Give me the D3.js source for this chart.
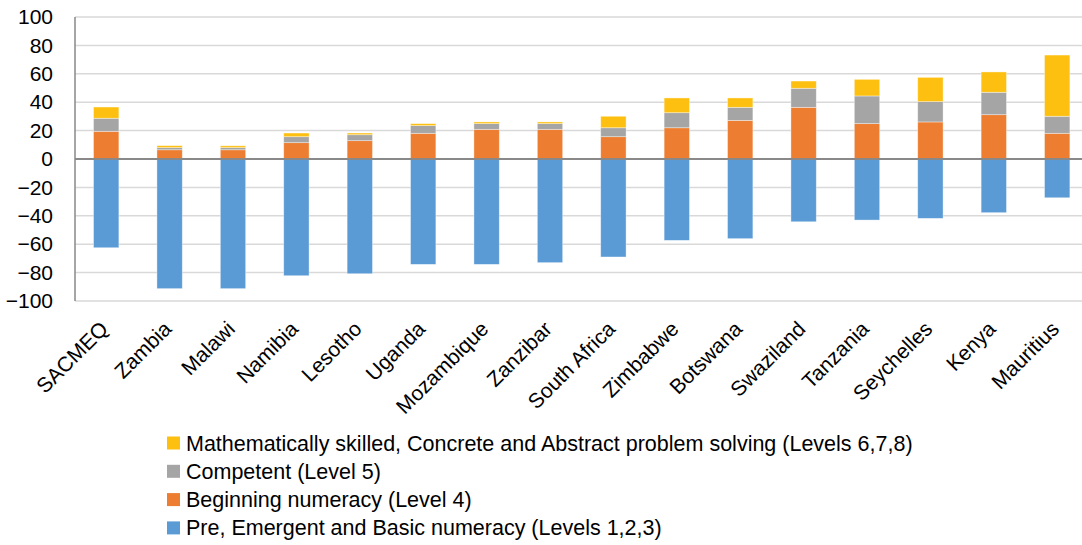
<!DOCTYPE html>
<html>
<head>
<meta charset="utf-8">
<script src="https://cdn.jsdelivr.net/npm/d3@7"></script>
<style>
  html, body { margin: 0; padding: 0; background: #fff; }
  svg { display: block; font-family: "Liberation Sans", Arial, Helvetica, sans-serif; }
</style>
</head>
<body>
<svg id="chart" width="1082" height="545"></svg>
<script>
const categories = ["SACMEQ","Zambia","Malawi","Namibia","Lesotho","Uganda","Mozambique","Zanzibar","South Africa","Zimbabwe","Botswana","Swaziland","Tanzania","Seychelles","Kenya","Mauritius"];
const basicNumeracy = [-62.5,-91.3,-91.3,-82.2,-80.8,-74.2,-74.2,-73.0,-69.0,-57.3,-56.1,-44.2,-43.0,-41.8,-37.8,-27.3];
const beginningNumeracy = [19.5,6.5,6.5,11.5,12.9,18.1,20.9,20.9,15.7,22.0,27.2,36.4,24.9,26.1,31.2,18.1];
const competent = [9.2,1.5,1.5,4.2,4.2,5.4,4.0,4.0,6.3,10.6,9.2,13.4,19.5,14.3,15.8,12.0];
const skilled = [7.9,1.4,1.3,2.6,1.2,1.4,1.2,1.2,8.1,10.4,6.6,5.1,11.7,17.1,14.3,43.1];
const yTicks = [100,80,60,40,20,0,-20,-40,-60,-80,-100];
const seriesKeys = ["basic","beginning","competent","skilled"];
const seriesLabels = {
  skilled: "Mathematically skilled, Concrete and Abstract problem solving (Levels 6,7,8)",
  competent: "Competent (Level 5)",
  beginning: "Beginning numeracy (Level 4)",
  basic: "Pre, Emergent and Basic numeracy (Levels 1,2,3)"
};
const colors = { basic: "#5b9bd5", beginning: "#ed7d31", competent: "#a5a5a5", skilled: "#fdc010" };

const rows = categories.map((c, i) => ({
  cat: c, basic: basicNumeracy[i], beginning: beginningNumeracy[i], competent: competent[i], skilled: skilled[i]
}));

const svg = d3.select("#chart");
const plotLeft = 75, plotTop = 17, plotBottom = 301;

const x = d3.scaleBand().domain(categories).range([74.5, 1088.9]).paddingInner(0.6).paddingOuter(0.3);
const y = d3.scaleLinear().domain([-100, 100]).range([plotBottom, plotTop]);

// gridlines
svg.append("g").selectAll("line").data(yTicks.filter(d => d !== 0)).join("line")
  .attr("x1", plotLeft).attr("x2", 1082)
  .attr("y1", d => y(d)).attr("y2", d => y(d))
  .attr("stroke", "#d9d9d9").attr("stroke-width", 1.5);

// y tick labels via axis
const yAxis = d3.axisLeft(y).tickValues(yTicks).tickSize(0).tickPadding(22);
const ya = svg.append("g").attr("transform", `translate(${plotLeft},0)`).call(yAxis);
ya.select(".domain").remove();
ya.selectAll("text").attr("font-size", 21).attr("fill", "#000")
  .attr("font-family", '"Liberation Sans", Arial, sans-serif');

// stacked bars
const stack = d3.stack().keys(seriesKeys).offset(d3.stackOffsetDiverging);
const stacked = stack(rows);
svg.append("g").selectAll("g").data(stacked).join("g")
  .attr("fill", d => colors[d.key])
  .selectAll("rect").data(d => d).join("rect")
  .attr("x", d => x(d.data.cat))
  .attr("width", x.bandwidth())
  .attr("y", d => y(Math.max(d[0], d[1])))
  .attr("height", d => Math.abs(y(d[0]) - y(d[1])))
  .attr("stroke", "#ffffff").attr("stroke-opacity", 0.5).attr("stroke-width", 0.75);

// zero line
svg.append("line").attr("x1", plotLeft).attr("x2", 1082).attr("y1", y(0)).attr("y2", y(0))
  .attr("stroke", "#898989").attr("stroke-width", 2);
// left axis line
svg.append("line").attr("x1", plotLeft).attr("x2", plotLeft).attr("y1", plotTop).attr("y2", plotBottom)
  .attr("stroke", "#898989").attr("stroke-width", 1.5);

// x labels
svg.append("g").selectAll("text").data(categories).join("text")
  .attr("transform", d => `translate(${x(d) + x.bandwidth() / 2 - 2},${plotBottom + 24}) rotate(-45)`)
  .attr("text-anchor", "end")
  .attr("dy", "0.35em")
  .attr("font-size", 21).attr("fill", "#000")
  .text(d => d);

// legend
const legendOrder = ["skilled","competent","beginning","basic"];
const lg = svg.append("g").selectAll("g").data(legendOrder).join("g")
  .attr("transform", (d, i) => `translate(167,${443 + i * 28.3})`);
lg.append("rect").attr("x", 0).attr("y", -6.5).attr("width", 13).attr("height", 13)
  .attr("fill", d => colors[d]);
lg.append("text").attr("x", 19).attr("dy", "0.35em").attr("font-size", 21.5).attr("fill", "#000")
  .text(d => seriesLabels[d]);
</script>
</body>
</html>
